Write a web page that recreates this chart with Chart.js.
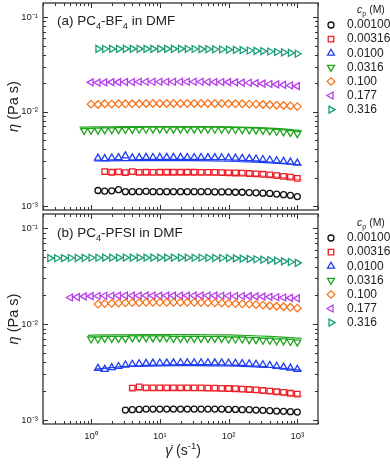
<!DOCTYPE html>
<html>
<head>
<meta charset="utf-8">
<script src="https://cdn.jsdelivr.net/npm/chart.js@4/dist/chart.umd.min.js"></script>
<style>
html, body { margin: 0; padding: 0; background: #fff; }
#wrap { position: relative; width: 390px; height: 465px; }
canvas { position: absolute; left: 0; }
</style>
</head>
<body>
<div id="wrap">
  <canvas id="chartA" width="390" height="212" style="top:0px"></canvas>
  <canvas id="chartB" width="390" height="253" style="top:212px"></canvas>
</div>
<script>
// shear rate grid (1/s), 10 points per decade
const shearRates = [0.251, 0.316, 0.398, 0.501, 0.631, 0.794, 1.00, 1.26, 1.58, 2.00,
  2.51, 3.16, 3.98, 5.01, 6.31, 7.94, 10.0, 12.6, 15.8, 20.0,
  25.1, 31.6, 39.8, 50.1, 63.1, 79.4, 100, 126, 158, 200,
  251, 316, 398, 501, 631, 794, 1000];

const concLabels = ['0.00100', '0.00316', '0.0100', '0.0316', '0.100', '0.177', '0.316'];
const xMajors = [1, 10, 100, 1000];
const yMajors = [0.001, 0.01, 0.1];

// (a) PC4-BF4 in DMF : index of first shear rate, then viscosities (Pa s)
const startA = [7, 8, 7, 5, 6, 6, 7];
const etaA_00100 = [0.00146,0.00144,0.00145,0.00149,0.00142,0.00142,0.00142,0.00143,0.00142,0.00142,0.00142,0.00142,0.00142,0.00142,0.00142,0.00142,0.00142,0.00141,0.00141,0.00141,0.00140,0.00140,0.00139,0.00138,0.00137,0.00136,0.00134,0.00132,0.00130,0.00126];
const etaA_00316 = [0.00231,0.00228,0.00230,0.00226,0.00231,0.00227,0.00228,0.00227,0.00228,0.00228,0.00228,0.00228,0.00228,0.00228,0.00227,0.00227,0.00227,0.00226,0.00225,0.00224,0.00223,0.00221,0.00219,0.00217,0.00214,0.00210,0.00206,0.00202,0.00196];
const etaA_0100 = [0.00322,0.00318,0.00323,0.00326,0.00340,0.00324,0.00326,0.00328,0.00327,0.00328,0.00328,0.00328,0.00328,0.00327,0.00327,0.00327,0.00326,0.00326,0.00325,0.00324,0.00322,0.00320,0.00318,0.00315,0.00311,0.00307,0.00302,0.00297,0.00292,0.00285];
const etaA_0316 = [0.00630,0.00634,0.00637,0.00640,0.00642,0.00644,0.00646,0.00648,0.00650,0.00651,0.00652,0.00653,0.00653,0.00653,0.00653,0.00653,0.00653,0.00652,0.00652,0.00651,0.00650,0.00648,0.00646,0.00644,0.00641,0.00637,0.00632,0.00626,0.00619,0.00610,0.00600,0.00585];
const etaA_100 = [0.0120,0.0119,0.0121,0.0120,0.0121,0.0121,0.0121,0.0121,0.0122,0.0122,0.0122,0.0122,0.0122,0.0122,0.0122,0.0122,0.0122,0.0122,0.0122,0.0122,0.0121,0.0121,0.0121,0.0120,0.0120,0.0119,0.0118,0.0117,0.0116,0.0115,0.0113];
const etaA_177 = [0.0204,0.0203,0.0204,0.0205,0.0205,0.0206,0.0206,0.0207,0.0207,0.0207,0.0207,0.0207,0.0207,0.0207,0.0207,0.0207,0.0207,0.0206,0.0206,0.0206,0.0205,0.0204,0.0203,0.0202,0.0200,0.0198,0.0196,0.0194,0.0192,0.0189,0.0186];
const etaA_316 = [0.0461,0.0460,0.0461,0.0462,0.0462,0.0462,0.0462,0.0462,0.0462,0.0462,0.0462,0.0462,0.0462,0.0461,0.0460,0.0459,0.0458,0.0457,0.0455,0.0453,0.0450,0.0447,0.0444,0.0440,0.0437,0.0433,0.0428,0.0423,0.0418,0.0410];

// (b) PC4-PFSI in DMF
const startB = [11, 12, 7, 6, 7, 3, 0];
const etaB_00100 = [0.00127,0.00128,0.00129,0.00130,0.00130,0.00130,0.00130,0.00130,0.00130,0.00130,0.00130,0.00130,0.00130,0.00130,0.00130,0.00129,0.00129,0.00128,0.00128,0.00127,0.00126,0.00125,0.00124,0.00123,0.00122,0.00121];
const etaB_00316 = [0.00215,0.00222,0.00216,0.00216,0.00216,0.00216,0.00216,0.00216,0.00216,0.00216,0.00216,0.00215,0.00215,0.00214,0.00213,0.00212,0.00210,0.00208,0.00206,0.00203,0.00200,0.00197,0.00194,0.00190,0.00186];
const etaB_0100 = [0.00346,0.00338,0.00352,0.00362,0.00375,0.00382,0.00386,0.00390,0.00392,0.00393,0.00394,0.00395,0.00396,0.00396,0.00396,0.00396,0.00396,0.00395,0.00394,0.00393,0.00391,0.00389,0.00386,0.00382,0.00377,0.00371,0.00364,0.00356,0.00348,0.00338];
const etaB_0316 = [0.0070,0.0070,0.0071,0.0071,0.0071,0.0071,0.0072,0.0072,0.0072,0.0072,0.0072,0.0072,0.0071,0.0071,0.0071,0.0071,0.0071,0.0071,0.0071,0.0071,0.0070,0.0070,0.0070,0.0069,0.0069,0.0068,0.0068,0.0067,0.0067,0.0066,0.0065];
const etaB_100 = [0.0162,0.0164,0.0165,0.0166,0.0167,0.0168,0.0168,0.0169,0.0169,0.0169,0.0169,0.0169,0.0169,0.0169,0.0169,0.0168,0.0168,0.0167,0.0166,0.0165,0.0164,0.0163,0.0162,0.0160,0.0158,0.0156,0.0154,0.0152,0.0150,0.0147];
const etaB_177 = [0.0190,0.0192,0.0195,0.0196,0.0197,0.0198,0.0198,0.0199,0.0199,0.0199,0.0199,0.0199,0.0199,0.0199,0.0199,0.0199,0.0199,0.0199,0.0199,0.0199,0.0199,0.0199,0.0198,0.0198,0.0197,0.0197,0.0196,0.0195,0.0194,0.0193,0.0191,0.0190,0.0188,0.0186];
const etaB_316 = [0.0490,0.0488,0.0490,0.0491,0.0492,0.0493,0.0494,0.0494,0.0495,0.0495,0.0495,0.0495,0.0495,0.0495,0.0495,0.0495,0.0495,0.0495,0.0495,0.0495,0.0495,0.0494,0.0494,0.0493,0.0492,0.0491,0.0489,0.0487,0.0484,0.0480,0.0476,0.0471,0.0466,0.0460,0.0453,0.0446,0.0437];

// continuous traces drawn as lines under the symbols
const lineA_00316_x = [1.5, 3.16, 10, 31.6, 100, 200, 400, 700, 1150];
const lineA_00316_y = [0.00217, 0.00217, 0.00217, 0.00216, 0.00214, 0.00211, 0.00205, 0.00198, 0.00188];
const lineA_0100_x = [1.12, 3.16, 10, 31.6, 100, 200, 400, 700, 1150];
const lineA_0100_y = [0.00300, 0.00302, 0.00303, 0.00302, 0.00298, 0.00293, 0.00287, 0.00280, 0.00272];
const lineA_0316_x = [0.68, 1, 3.16, 10, 31.6, 100, 200, 400, 700, 1150];
const lineA_0316_y = [0.00684, 0.00688, 0.00692, 0.00694, 0.00694, 0.00690, 0.00682, 0.00668, 0.00652, 0.00628];
const lineB_00316_x = [3.6, 10, 31.6, 100, 200, 400, 700, 1150];
const lineB_00316_y = [0.00205, 0.00205, 0.00204, 0.00200, 0.00196, 0.00190, 0.00183, 0.00176];
const lineB_0100_x = [1.15, 2, 3.16, 10, 31.6, 100, 200, 400, 700, 1150];
const lineB_0100_y = [0.00340, 0.00352, 0.00362, 0.00368, 0.00369, 0.00366, 0.00361, 0.00353, 0.00343, 0.00330];
const lineB_0316_x = [0.9, 1, 3.16, 10, 31.6, 100, 200, 400, 700, 1150];
const lineB_0316_y = [0.00762, 0.00768, 0.00775, 0.00778, 0.00778, 0.00772, 0.00760, 0.00745, 0.00728, 0.00710];

const colors = ['#111111', '#ed1c24', '#1e3cf0', '#1ea51e', '#f7741a', '#b43ce6', '#1a9e78'];
const symbols = [
  { pointStyle: 'circle', radius: 3, rotation: 0 },
  { pointStyle: 'rect', radius: 3.9, rotation: 0 },
  { pointStyle: 'triangle', radius: 4, rotation: 0 },
  { pointStyle: 'triangle', radius: 4, rotation: 180 },
  { pointStyle: 'rectRot', radius: 3.8, rotation: 0 },
  { pointStyle: 'triangle', radius: 4, rotation: -90 },
  { pointStyle: 'triangle', radius: 4, rotation: 90 }
];

const FONT = '"Liberation Sans", Arial, sans-serif';
const supMap = { '-': '\u207B', '0': '\u2070', '1': '\u00B9', '2': '\u00B2', '3': '\u00B3' };
function powLabel(v) {
  const e = String(Math.round(Math.log10(v)));
  return '10' + e.split('').map(c => supMap[c]).join('');
}

function markerSets(start, series) {
  return series.map((eta, i) => ({
    label: concLabels[i],
    data: eta.map((y, k) => ({ x: shearRates[start[i] + k], y: y })),
    showLine: false,
    pointStyle: symbols[i].pointStyle,
    pointRadius: symbols[i].radius,
    pointRotation: symbols[i].rotation,
    pointBorderColor: colors[i],
    pointBackgroundColor: 'rgba(0,0,0,0)',
    pointBorderWidth: 1.3,
    order: 1
  }));
}

function traceSet(xs, ys, idx, alpha) {
  return {
    label: 'trace ' + concLabels[idx],
    data: xs.map((x, k) => ({ x: x, y: ys[k] })),
    showLine: true,
    borderColor: alpha ? colors[idx] + alpha : colors[idx],
    borderWidth: 1.2,
    pointRadius: 0,
    tension: 0.3,
    order: 2
  };
}

// draw text made of runs (italic / sub / sup)
function drawRuns(ctx, x, y, runs, size, align) {
  const fontFor = r => (r.italic ? 'italic ' : '') + ((r.sub || r.sup) ? size * 0.68 : size) + 'px ' + FONT;
  let w = 0;
  runs.forEach(r => { ctx.font = fontFor(r); w += ctx.measureText(r.t).width; });
  let cx = align === 'center' ? x - w / 2 : x;
  ctx.textAlign = 'left';
  ctx.textBaseline = 'alphabetic';
  runs.forEach(r => {
    ctx.font = fontFor(r);
    const dy = r.sub ? size * 0.3 : (r.sup ? -size * 0.42 : 0);
    ctx.fillText(r.t, cx, y + dy);
    cx += ctx.measureText(r.t).width;
  });
}

const framePlugin = {
  id: 'frame',
  afterDraw(chart, args, opts) {
    const { ctx, chartArea: a } = chart;
    const xs = chart.scales.x, ys = chart.scales.y;
    ctx.save();
    ctx.strokeStyle = '#333';
    ctx.lineWidth = 1.3;
    ctx.strokeRect(a.left, a.top, a.right - a.left, a.bottom - a.top);
    ctx.lineWidth = 1;
    ctx.beginPath();
    for (let e = -1; e <= 3; e++) {
      for (let k = 1; k <= 9; k++) {
        const v = k * Math.pow(10, e);
        if (v < xs.min || v > xs.max) continue;
        const px = Math.round(xs.getPixelForValue(v)) + 0.5;
        const len = k === 1 ? 5 : 3;
        ctx.moveTo(px, a.bottom); ctx.lineTo(px, a.bottom - len);
        ctx.moveTo(px, a.top); ctx.lineTo(px, a.top + len);
      }
    }
    for (let e = -4; e <= -1; e++) {
      for (let k = 1; k <= 9; k++) {
        const v = k * Math.pow(10, e);
        if (v < ys.min || v > ys.max) continue;
        const py = Math.round(ys.getPixelForValue(v)) + 0.5;
        const len = k === 1 ? 5 : 3;
        ctx.moveTo(a.left, py); ctx.lineTo(a.left + len, py);
        ctx.moveTo(a.right, py); ctx.lineTo(a.right - len, py);
      }
    }
    ctx.stroke();

    ctx.fillStyle = '#222';
    // panel label
    drawRuns(ctx, 57, opts.labelBase, opts.panel, 13.5, 'left');
    // y title
    ctx.save();
    ctx.translate(13, (a.top + a.bottom) / 2);
    ctx.rotate(-Math.PI / 2);
    drawRuns(ctx, 0, 5, [{ t: '\u03B7', italic: true }, { t: ' (Pa s)' }], 14.5, 'center');
    ctx.restore();
    // x title
    if (opts.xTitle) {
      drawRuns(ctx, 183, chart.height - 10, [{ t: '\u03B3\u0307', italic: true }, { t: ' (s' }, { t: '-1', sup: true }, { t: ')' }], 14, 'center');
    }
    // legend
    drawRuns(ctx, 357, opts.legendTop - 12, [{ t: 'c', italic: true }, { t: 'p', sub: true }, { t: ' (M)' }], 10.5, 'left');
    concLabels.forEach((lab, i) => {
      const yy = opts.legendTop + i * 14.1;
      ctx.save();
      ctx.strokeStyle = colors[i];
      ctx.fillStyle = 'rgba(0,0,0,0)';
      ctx.lineWidth = 1.3;
      Chart.helpers.drawPoint(ctx, {
        pointStyle: symbols[i].pointStyle,
        radius: symbols[i].radius,
        rotation: symbols[i].rotation,
        borderWidth: 1.3
      }, 331, yy);
      ctx.restore();
      ctx.fillStyle = '#222';
      ctx.font = '12px ' + FONT;
      ctx.textAlign = 'left';
      ctx.textBaseline = 'middle';
      ctx.fillText(lab, 347, yy);
    });
    ctx.restore();
  }
};

function makeChart(id, datasets, opts) {
  return new Chart(document.getElementById(id), {
    type: 'line',
    data: { datasets: datasets },
    plugins: [framePlugin],
    options: {
      responsive: false,
      animation: false,
      events: [],
      layout: { autoPadding: false, padding: { left: 0, right: 72, top: opts.padTop, bottom: 0 } },
      plugins: {
        legend: { display: false },
        tooltip: { enabled: false },
        frame: opts
      },
      scales: {
        x: {
          type: 'logarithmic',
          min: 0.2,
          max: 2000,
          grid: { display: false, drawTicks: false },
          border: { display: false },
          ticks: {
            display: opts.xTitle,
            autoSkip: false,
            maxRotation: 0,
            padding: 7,
            color: '#222',
            font: { size: 9.5, family: FONT },
            callback: v => powLabel(v)
          },
          afterBuildTicks: s => { s.ticks = xMajors.map(v => ({ value: v })); },
          afterFit: s => { s.height = opts.xHeight; s.paddingLeft = 0; s.paddingRight = 0; }
        },
        y: {
          type: 'logarithmic',
          min: 0.000908,
          max: 0.1413,
          grid: { display: false, drawTicks: false },
          border: { display: false },
          ticks: {
            autoSkip: false,
            padding: 5,
            color: '#222',
            font: { size: 9.5, family: FONT },
            callback: v => powLabel(v)
          },
          afterBuildTicks: s => { s.ticks = yMajors.map(v => ({ value: v })); },
          afterFit: s => { s.width = 43; s.paddingTop = 0; s.paddingBottom = 0; }
        }
      }
    }
  });
}

const setsA = markerSets(startA, [etaA_00100, etaA_00316, etaA_0100, etaA_0316, etaA_100, etaA_177, etaA_316]).concat([
  traceSet(lineA_00316_x, lineA_00316_y, 1, '99'),
  traceSet(lineA_0100_x, lineA_0100_y, 2),
  traceSet(lineA_0316_x, lineA_0316_y, 3)
]);
const setsB = markerSets(startB, [etaB_00100, etaB_00316, etaB_0100, etaB_0316, etaB_100, etaB_177, etaB_316]).concat([
  traceSet(lineB_00316_x, lineB_00316_y, 1, '99'),
  traceSet(lineB_0100_x, lineB_0100_y, 2),
  traceSet(lineB_0316_x, lineB_0316_y, 3)
]);

makeChart('chartA', setsA, {
  padTop: 3, xHeight: 2, xTitle: false, legendTop: 25, labelBase: 25,
  panel: [{ t: '(a) PC' }, { t: '4', sub: true }, { t: '-BF' }, { t: '4', sub: true }, { t: ' in DMF' }]
});
makeChart('chartB', setsB, {
  padTop: 2, xHeight: 41, xTitle: true, legendTop: 26, labelBase: 25,
  panel: [{ t: '(b) PC' }, { t: '4', sub: true }, { t: '-PFSI in DMF' }]
});
</script>
</body>
</html>
